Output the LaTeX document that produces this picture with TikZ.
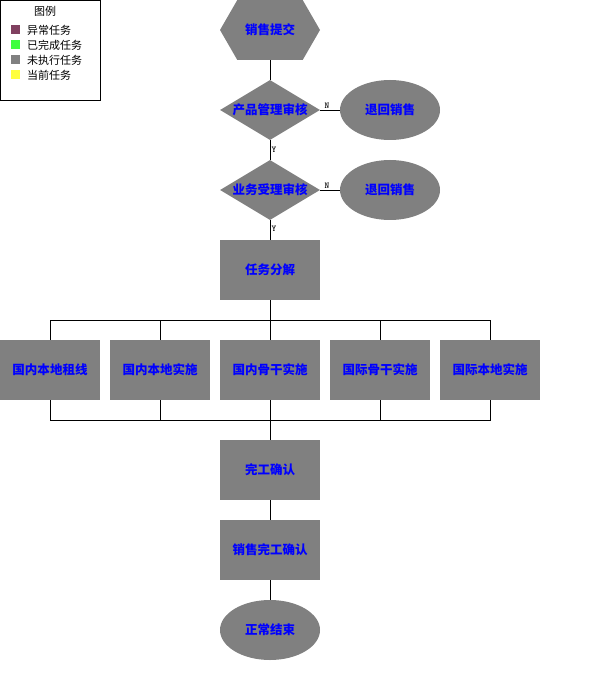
\documentclass[tikz,border=0pt]{standalone}
\usepackage{fontspec}
\newfontfamily\cjk{Noto Sans CJK SC}
\usetikzlibrary{positioning,shapes.geometric,shapes.symbols}

\definecolor{taskgray}{HTML}{808080}
\definecolor{taskblue}{HTML}{0000FF}
\definecolor{yichang}{HTML}{804060}
\definecolor{wancheng}{HTML}{40FF40}
\definecolor{dangqian}{HTML}{FFFF40}

\begin{document}
\begin{tikzpicture}[x=1pt,y=-1pt,node distance=80pt,on grid]
      \tikzset{task/.style={fill=taskgray,inner sep=0pt,text=taskblue,font=\cjk\bfseries\fontsize{12.5}{13}\selectfont},
        taskbox/.style={task,rectangle,minimum width=100pt,minimum height=60pt},
        taskdia/.style={task,diamond,aspect=1.6667,minimum width=100pt,minimum height=60pt},
        taskell/.style={task,ellipse,minimum width=100pt,minimum height=60pt},
        taskhex/.style={task,signal,signal to=west and east,signal pointer angle=120,minimum width=100pt,minimum height=60pt},
        yn/.style={font=\ttfamily\bfseries\fontsize{9}{10}\selectfont,inner sep=1.5pt},
        legsq/.style={rectangle,minimum size=9pt,inner sep=0pt},
        legtxt/.style={anchor=west,inner sep=0pt,font=\cjk\fontsize{11}{12}\selectfont}}
      \useasboundingbox (0,0) rectangle (600,700);

      % legend
      \node[draw,rectangle,minimum width=100pt,minimum height=100pt,inner sep=0pt] (legend) at (50.5,50.5) {};
      \node[font=\cjk\fontsize{11}{12}\selectfont] (legtitle) at (45,11) {图例};
      \foreach \c/\t [count=\i] in {yichang/异常任务,wancheng/已完成任务,taskgray/未执行任务,dangqian/当前任务}
      {
        \node[legsq,fill=\c] (sq\i) at (15,15+15*\i) {};
        \node[legtxt] (lt\i) at (27,15+15*\i) {\t};
      }

      % main flow
      \node[taskhex] (tijiao) at (270,30) {销售提交};
      \node[taskdia] (chanpin) [below = 80pt of tijiao] {产品管理审核};
      \node[taskell] (tuihuiA) [right = 120pt of chanpin] {退回销售};
      \node[taskdia] (yewu) [below = 80pt of chanpin] {业务受理审核};
      \node[taskell] (tuihuiB) [right = 120pt of yewu] {退回销售};
      \node[taskbox] (fenjie) [below = 80pt of yewu] {任务分解};

      \node[taskbox] (gngg) [below = 100pt of fenjie] {国内骨干实施};
      \node[taskbox] (gnss) [left = 110pt of gngg] {国内本地实施};
      \node[taskbox] (gnzx) [left = 110pt of gnss] {国内本地租线};
      \node[taskbox] (gjgg) [right = 110pt of gngg] {国际骨干实施};
      \node[taskbox] (gjbd) [right = 110pt of gjgg] {国际本地实施};

      \node[taskbox] (wangong) [below = 100pt of gngg] {完工确认};
      \node[taskbox] (xswg) [below = 80pt of wangong] {销售完工确认};
      \node[taskell] (jieshu) [below = 80pt of xswg] {正常结束};

      \coordinate[below = 20pt of fenjie.south] (topbus);
      \coordinate[below = 20pt of gngg.south] (botbus);

      \path[draw=black]
      (tijiao.south) edge (chanpin.north)
      (chanpin)
      edge node [yn,above,pos=0.35] {N} (tuihuiA)
      edge node [yn,right] {Y} (yewu)
      (yewu)
      edge node [yn,above,pos=0.35] {N} (tuihuiB)
      edge node [yn,right,pos=0.45] {Y} (fenjie)
      (fenjie) edge (gngg)
      (gngg) edge (wangong)
      (wangong) edge (xswg)
      (xswg) edge (jieshu)
      ;
      \draw (gnzx.north) |- (topbus) -| (gjbd.north);
      \draw (gnss.north) |- (topbus) -| (gjgg.north);
      \draw (gnzx.south) |- (botbus) -| (gjbd.south);
      \draw (gnss.south) |- (botbus) -| (gjgg.south);
    \end{tikzpicture}
\end{document}
